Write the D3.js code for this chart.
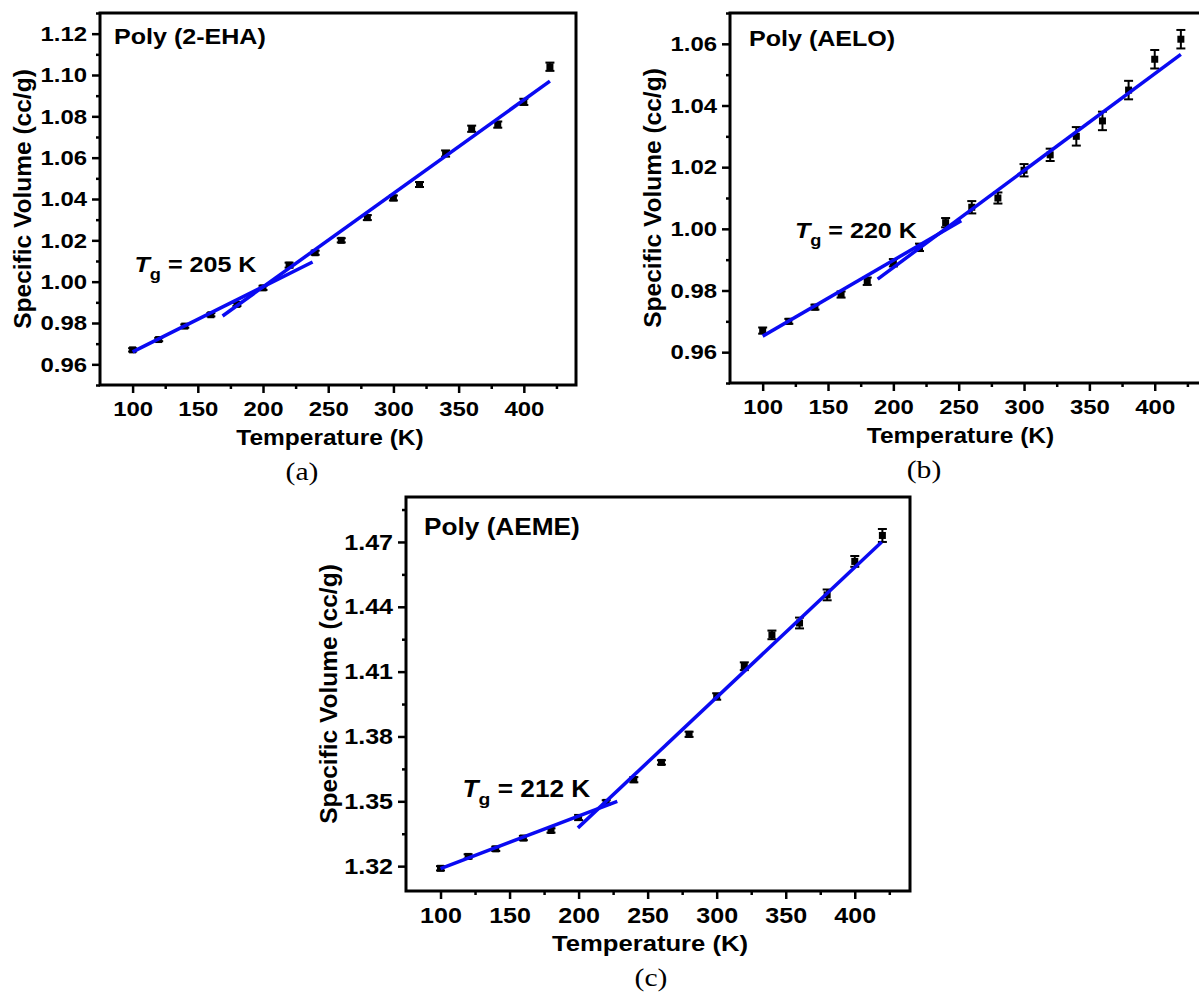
<!DOCTYPE html>
<html>
<head>
<meta charset="utf-8">
<script src="https://cdn.jsdelivr.net/npm/d3@7/dist/d3.min.js"></script>
<style>
  body { margin: 0; background: #fff; }
  svg { display: block; }
  text { font-family: "Liberation Sans", Arial, sans-serif; font-weight: bold; fill: #000; }
  .lbl { font-family: "Liberation Serif", "Times New Roman", serif; font-weight: normal; }
</style>
</head>
<body>
<script>
// temperatures shared by all three samples (K)
const temps = [100, 120, 140, 160, 180, 200, 220, 240, 260, 280, 300, 320, 340, 360, 380, 400, 420]

// Poly (2-EHA)
const ehaVol = [0.967, 0.972, 0.9785, 0.984, 0.989, 0.997, 1.008, 1.014, 1.020, 1.031, 1.0405, 1.047, 1.062, 1.074, 1.076, 1.087, 1.104]
const ehaErr = [0.0008, 0.0008, 0.0008, 0.0008, 0.0008, 0.001, 0.0012, 0.001, 0.001, 0.0012, 0.0012, 0.0012, 0.0015, 0.0015, 0.0015, 0.0015, 0.002]
const ehaFits = [[[100, 0.966], [238, 1.0095]], [[169, 0.9834], [420, 1.097]]]

// Poly (AELO)
const aeloVol = [0.967, 0.970, 0.9746, 0.9787, 0.983, 0.989, 0.994, 1.002, 1.007, 1.010, 1.019, 1.024, 1.030, 1.035, 1.045, 1.055, 1.0615]
const aeloErr = [0.001, 0.0008, 0.0008, 0.001, 0.0012, 0.0012, 0.0012, 0.0015, 0.002, 0.0018, 0.002, 0.002, 0.003, 0.003, 0.003, 0.003, 0.003]
const aeloFits = [[[100, 0.9652], [252, 1.0026]], [[188, 0.9837], [420, 1.0566]]]

// Poly (AEME)
const aemeVol = [1.319, 1.3245, 1.328, 1.333, 1.3365, 1.3425, 1.3495, 1.360, 1.368, 1.381, 1.3985, 1.4125, 1.427, 1.4325, 1.4455, 1.461, 1.473]
const aemeErr = [0.001, 0.001, 0.001, 0.001, 0.001, 0.0012, 0.001, 0.0012, 0.001, 0.0012, 0.0015, 0.0018, 0.002, 0.0025, 0.0025, 0.0025, 0.003]
const aemeFits = [[[100, 1.3188], [228, 1.350]], [[199.5, 1.3377], [419.5, 1.470]]]

// axes
const xDomain = [75, 440]
const xMajor = [100, 150, 200, 250, 300, 350, 400]
const xMinor = [125, 175, 225, 275, 325, 375, 425]
const ehaYMajor = [0.96, 0.98, 1.00, 1.02, 1.04, 1.06, 1.08, 1.10, 1.12]
const ehaYMinor = [0.95, 0.97, 0.99, 1.01, 1.03, 1.05, 1.07, 1.09, 1.11, 1.13]
const aeloYMajor = [0.96, 0.98, 1.00, 1.02, 1.04, 1.06]
const aeloYMinor = [0.95, 0.97, 0.99, 1.01, 1.03, 1.05, 1.07]
const aemeYMajor = [1.32, 1.35, 1.38, 1.41, 1.44, 1.47]
const aemeYMinor = [1.335, 1.365, 1.395, 1.425, 1.455, 1.485]

const W = 1199, H = 996
const STRETCH = 1.14
const blue = '#0a0af2'

const svg = d3.select('body').append('svg').attr('width', W).attr('height', H)

// text in the picture is wider than Arial, so stretch it sideways
function stretchText(sel, k) {
    sel.each(function () {
        let t = d3.select(this)
        let x = +(t.attr('x') || 0)
        t.attr('x', x / k).attr('transform', 'scale(' + k + ',1)')
    })
}

const panels = [
    { left: 100, right: 576, top: 13, bottom: 385, yDomain: [0.95, 1.13], yMajor: ehaYMajor, yMinor: ehaYMinor,
      vol: ehaVol, err: ehaErr, fits: ehaFits, title: 'Poly (2-EHA)', titleDx: 14, titleDy: 31,
      tg: '205', tgAt: [101.5, 1.0048], label: '(a)', labelX: 302, fs: 21 },
    { left: 730, right: 1207, top: 13, bottom: 383, yDomain: [0.95, 1.07], yMajor: aeloYMajor, yMinor: aeloYMinor,
      vol: aeloVol, err: aeloErr, fits: aeloFits, title: 'Poly (AELO)', titleDx: 19, titleDy: 33,
      tg: '220', tgAt: [124.7, 0.997], label: '(b)', labelX: 924, fs: 21 },
    { left: 406, right: 910, top: 497, bottom: 891, yDomain: [1.3085, 1.4908], yMajor: aemeYMajor, yMinor: aemeYMinor,
      vol: aemeVol, err: aemeErr, fits: aemeFits, title: 'Poly (AEME)', titleDx: 18, titleDy: 38,
      tg: '212', tgAt: [116, 1.3521], label: '(c)', labelX: 651, fs: 22 }
]

panels.forEach(drawPanel)

function drawPanel(p) {
    let g = svg.append('g')
    let x = d3.scaleLinear().domain(xDomain).range([p.left, p.right])
    let y = d3.scaleLinear().domain(p.yDomain).range([p.bottom, p.top])

    // minor ticks
    g.append('g').attr('transform', 'translate(0,' + p.bottom + ')')
        .call(d3.axisBottom(x).tickValues(xMinor).tickSize(4).tickFormat(''))
    g.append('g').attr('transform', 'translate(' + p.left + ',0)')
        .call(d3.axisLeft(y).tickValues(p.yMinor).tickSize(4).tickFormat(''))

    // major ticks with labels
    let xa = g.append('g').attr('transform', 'translate(0,' + p.bottom + ')')
        .call(d3.axisBottom(x).tickValues(xMajor).tickSize(8).tickPadding(8).tickFormat(d3.format('d')))
    let ya = g.append('g').attr('transform', 'translate(' + p.left + ',0)')
        .call(d3.axisLeft(y).tickValues(p.yMajor).tickSize(8).tickPadding(5).tickFormat(d3.format('.2f')))

    g.selectAll('.domain').remove()
    g.selectAll('.tick line').attr('stroke', '#000').attr('stroke-width', 2.5)
    g.selectAll('.tick text').style('font-family', '"Liberation Sans", Arial, sans-serif')
        .style('font-weight', 'bold').style('font-size', p.fs + 'px').attr('fill', '#000')
    stretchText(xa.selectAll('text'), STRETCH)
    stretchText(ya.selectAll('text'), STRETCH)

    // frame
    g.append('rect').attr('x', p.left).attr('y', p.top)
        .attr('width', p.right - p.left).attr('height', p.bottom - p.top)
        .attr('fill', 'none').attr('stroke', '#000').attr('stroke-width', 3)

    // error bars
    let pts = temps.map((t, i) => ({ t: t, v: p.vol[i], e: p.err[i] }))
    let eb = g.append('g').attr('stroke', '#000').attr('stroke-width', 2)
    eb.selectAll('.ebv').data(pts).enter().append('line')
        .attr('x1', d => x(d.t)).attr('x2', d => x(d.t))
        .attr('y1', d => y(d.v - d.e)).attr('y2', d => y(d.v + d.e))
    eb.selectAll('.ebt').data(pts).enter().append('line')
        .attr('x1', d => x(d.t) - 4.5).attr('x2', d => x(d.t) + 4.5)
        .attr('y1', d => y(d.v + d.e)).attr('y2', d => y(d.v + d.e))
    eb.selectAll('.ebb').data(pts).enter().append('line')
        .attr('x1', d => x(d.t) - 4.5).attr('x2', d => x(d.t) + 4.5)
        .attr('y1', d => y(d.v - d.e)).attr('y2', d => y(d.v - d.e))

    // markers
    g.selectAll('.mk').data(pts).enter().append('rect')
        .attr('x', d => x(d.t) - 3.5).attr('y', d => y(d.v) - 3.5)
        .attr('width', 7).attr('height', 7).attr('fill', '#000')

    // fitted lines
    let line = d3.line().x(d => x(d[0])).y(d => y(d[1]))
    g.selectAll('.fit').data(p.fits).enter().append('path')
        .attr('d', line).attr('fill', 'none').attr('stroke', blue).attr('stroke-width', 3.5)

    // sample name
    let ttl = g.append('text').attr('x', p.left + p.titleDx).attr('y', p.top + p.titleDy)
        .style('font-size', (p.fs + 1) + 'px').text(p.title)
    stretchText(ttl, STRETCH)

    // Tg annotation
    let tg = g.append('text').attr('x', x(p.tgAt[0])).attr('y', y(p.tgAt[1])).style('font-size', (p.fs + 1) + 'px')
    tg.append('tspan').style('font-style', 'italic').text('T')
    tg.append('tspan').attr('dy', 8).style('font-size', (p.fs - 5) + 'px').text('g')
    tg.append('tspan').attr('dy', -8).text(' = ' + p.tg + ' K')
    stretchText(tg, STRETCH)

    // axis titles
    let xt = g.append('text').attr('x', (p.left + p.right) / 2 - 8).attr('y', p.bottom + 60)
        .attr('text-anchor', 'middle').style('font-size', (p.fs + 0.5) + 'px').text('Temperature (K)')
    stretchText(xt, STRETCH)
    g.append('text')
        .attr('transform', 'translate(' + (p.left - 78) + ',' + ((p.top + p.bottom) / 2) + ') rotate(-90)')
        .attr('text-anchor', 'middle').attr('dy', '0.35em')
        .style('font-size', '24.5px').text('Specific Volume (cc/g)')

    // panel letter
    let lb = g.append('text').attr('class', 'lbl').attr('x', p.labelX).attr('y', p.bottom + 95)
        .attr('text-anchor', 'middle').style('font-size', '26px').text(p.label)
    stretchText(lb, STRETCH)
}
</script>
</body>
</html>
